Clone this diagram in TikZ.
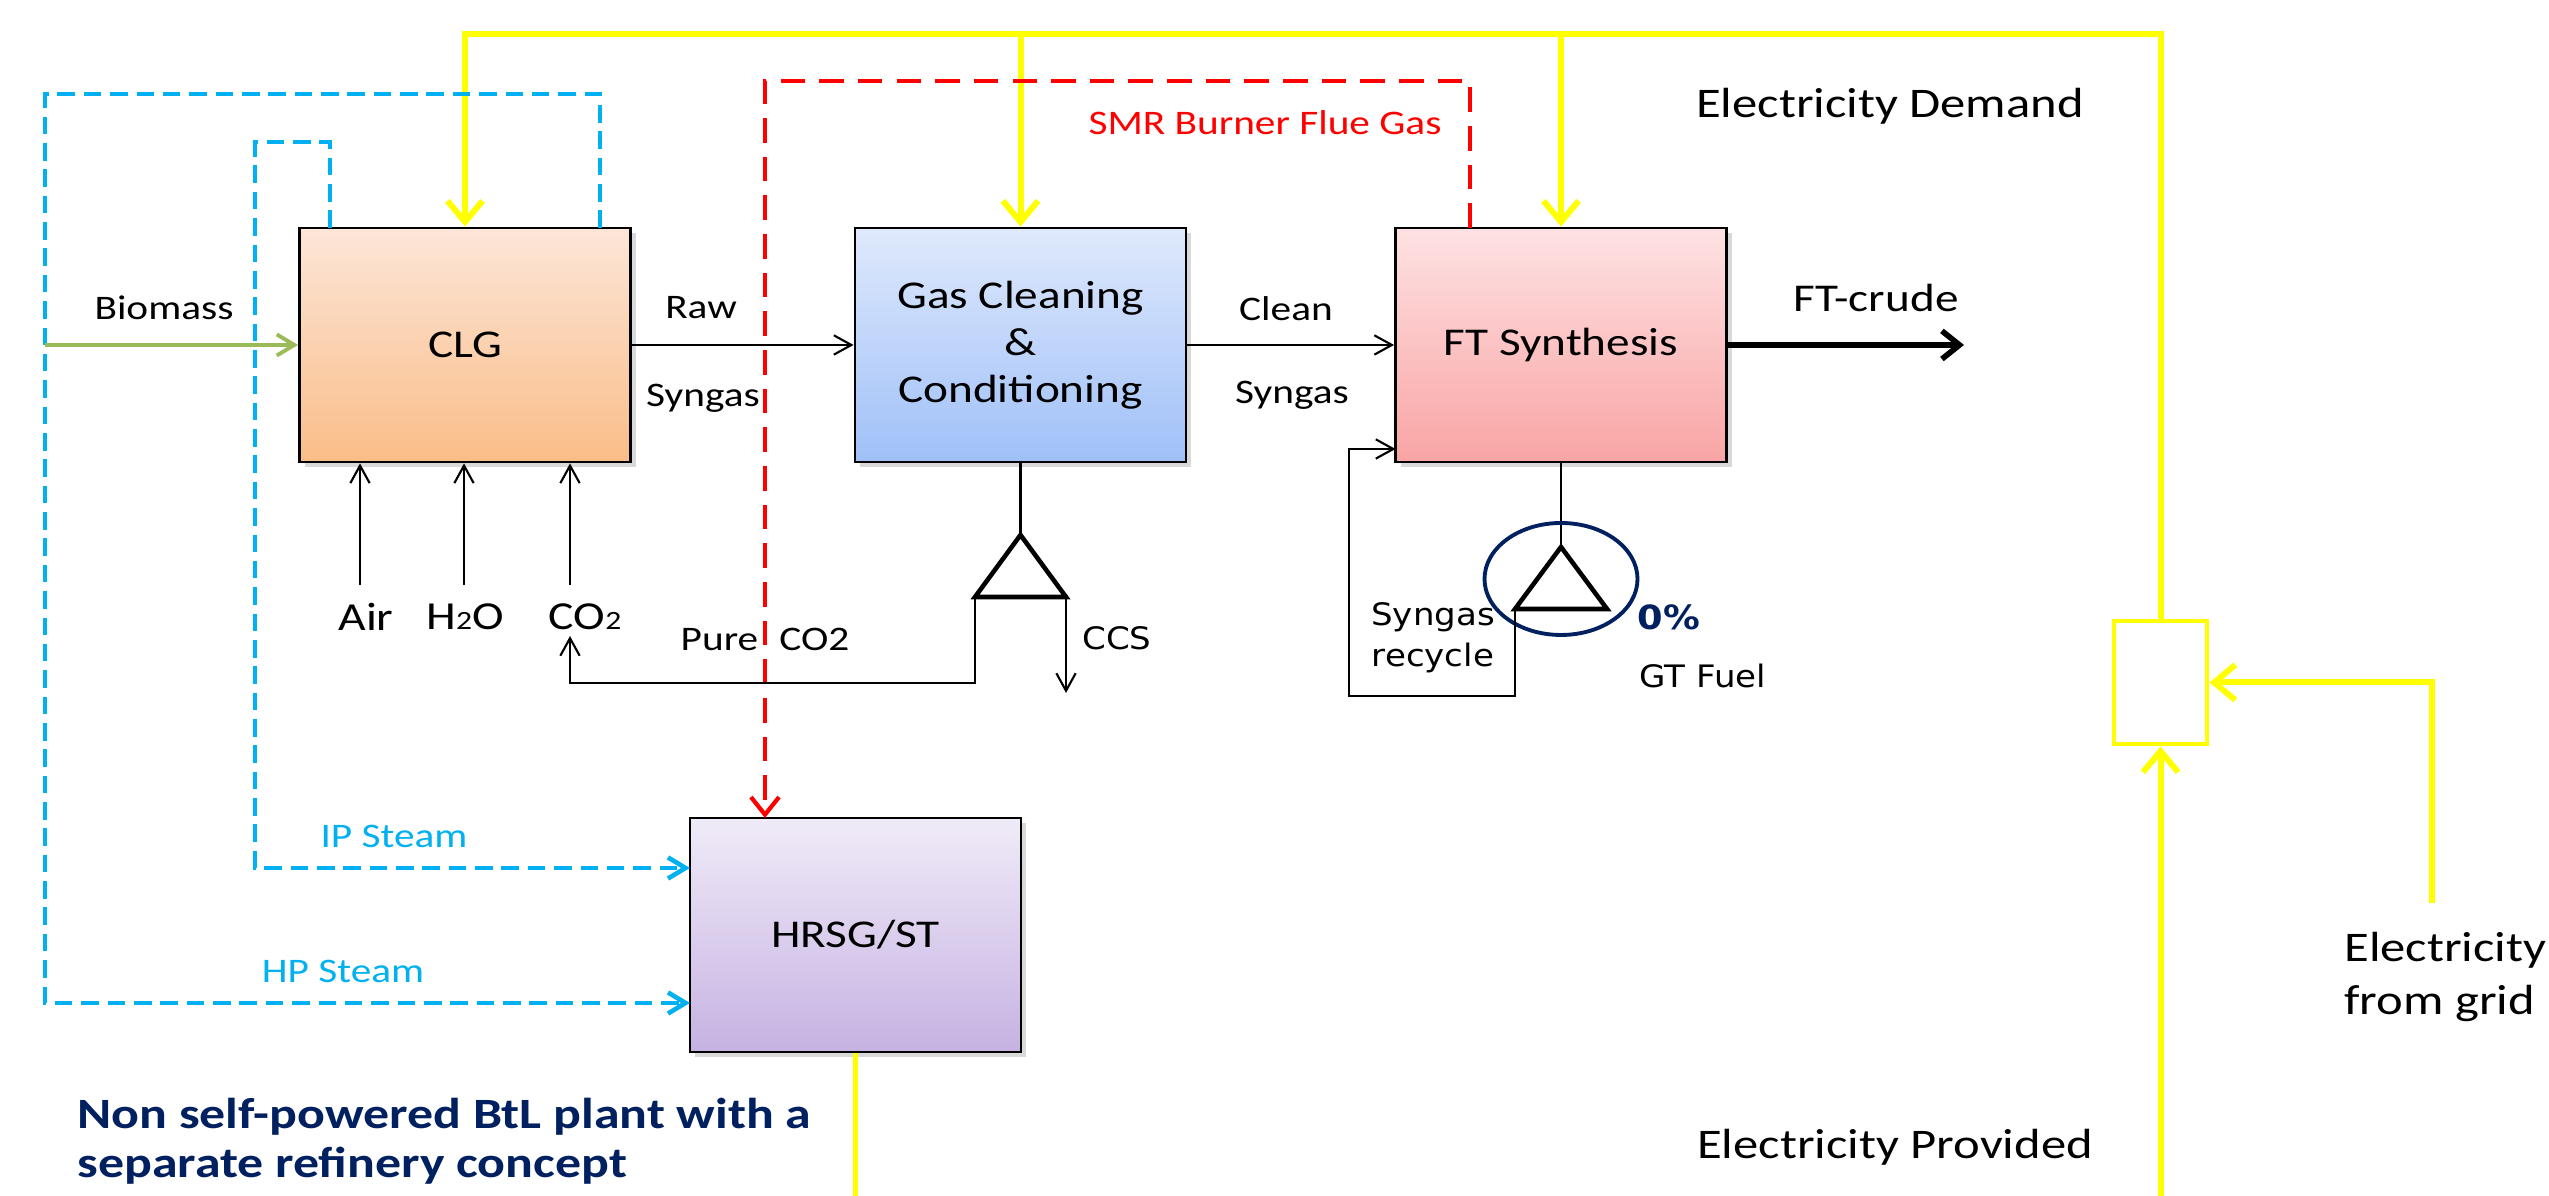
\documentclass[tikz,border=0pt]{standalone}
\usepackage{fontspec}
\setmainfont{Carlito}[FakeStretch=1.2]
\newfontfamily\vfont{DejaVu Sans}[FakeStretch=1.1]
\usepackage{xcolor}
\usepackage{tikz}
\usetikzlibrary{arrows.meta,shadows}
\definecolor{elecyel}{HTML}{FFFF00}
\definecolor{steamblue}{HTML}{00B0F0}
\definecolor{fluered}{HTML}{FF0000}
\definecolor{biogreen}{HTML}{9BBB59}
\definecolor{navy}{HTML}{002060}
\definecolor{clgtop}{HTML}{FCE6D8}
\definecolor{clgbot}{HTML}{FABD88}
\definecolor{gctop}{HTML}{DFE9FC}
\definecolor{gcbot}{HTML}{9FC0F8}
\definecolor{fttop}{HTML}{FEE2E3}
\definecolor{ftbot}{HTML}{F9A4A4}
\definecolor{hrsgtop}{HTML}{F0EBF8}
\definecolor{hrsgbot}{HTML}{C6B2E2}
\newcommand{\sub}[1]{{\fontsize{7.5}{8}\selectfont #1}}

\begin{document}
\begin{tikzpicture}[
  u/.style={draw, line width=0.8pt, minimum width=3.31cm, minimum height=2.34cm, align=center,
            font=\fontsize{11.2}{13.4}\selectfont,
            drop shadow={shadow xshift=1.5pt, shadow yshift=-1.5pt, opacity=0.3}},
  flow/.style={-{Straight Barb[length=5pt,width=5.5pt]}, line width=0.6pt},
  prod/.style={-{Straight Barb[length=5pt,width=8pt]}, line width=1.6pt},
  elec/.style={-{Straight Barb[length=6pt,width=10pt]}, elecyel, line width=1.7pt},
  steam/.style={-{Straight Barb[length=5pt,width=6pt]}, steamblue, line width=1.3pt, dash pattern=on 5pt off 2.5pt},
  flue/.style={-{Straight Barb[length=5pt,width=8pt]}, fluered, line width=1.2pt, dash pattern=on 7pt off 4pt},
  feed/.style={-{Straight Barb[length=5pt,width=6pt]}, biogreen, line width=1.1pt},
  tri/.style={line width=1.3pt, line join=miter},
  lbl/.style={font=\fontsize{9.8}{12}\selectfont},
  big/.style={font=\fontsize{12}{14.8}\selectfont},
  vl/.style={font=\vfont\fontsize{8.8}{11.7}\selectfont}]
\useasboundingbox (0,0) rectangle (25.49,11.96);

% units
\node[u, top color=clgtop, bottom color=clgbot] (clg) at (4.65,8.51) {CLG};
\node[u, top color=gctop, bottom color=gcbot] (gc) at (10.205,8.51) {Gas Cleaning\\\&\\Conditioning};
\node[u, top color=fttop, bottom color=ftbot] (ft) at (15.61,8.51) {FT Synthesis};
\node[u, top color=hrsgtop, bottom color=hrsgbot] (hrsg) at (8.555,2.61) {HRSG/ST};
\node[draw=elecyel, line width=1.4pt, minimum width=0.93cm, minimum height=1.23cm, inner sep=0pt] (ebox) at (21.605,5.135) {};

% electricity
\coordinate (etop) at (4.65,11.62);
\draw[elec] (ebox.north) |- (etop) -- (clg.north);
\draw[elec] (gc.north |- etop) -- (gc.north);
\draw[elec] (ft.north |- etop) -- (ft.north);
\coordinate (grid) at (24.32,2.93);
\draw[elec] (grid) |- (ebox.east);
\coordinate (prov) at (21.605,0);
\draw[elec] (prov) -- (ebox.south);
\coordinate (hout) at (8.555,0);
\draw[elec,-] (hrsg.south) -- (hout);

% steam
\coordinate (hpout) at (6.00,9.68);
\coordinate (hpin) at (6.90,1.93);
\draw[steam] (hpout) -- (6.00,11.02) -| (0.45,1.93) -- (hpin);
\coordinate (ipout) at (3.30,9.68);
\coordinate (ipin) at (6.90,3.28);
\draw[steam] (ipout) -- (3.30,10.54) -| (2.55,3.28) -- (ipin);

% flue gas
\coordinate (flout) at (14.70,9.68);
\coordinate (flin) at (7.65,3.78);
\draw[flue] (flout) |- (7.65,11.15) -- (flin);

% main line
\coordinate (bio) at (0.45,8.51);
\draw[feed] (bio) -- (clg.west);
\draw[flow] (clg.east) -- (gc.west);
\draw[flow] (gc.east) -- (ft.west);
\coordinate (crude) at (19.64,8.51);
\draw[prod] (ft.east) -- (crude);

% gasifier inputs
\coordinate (air) at (3.60,6.11);
\coordinate (wat) at (4.64,6.11);
\coordinate (co) at (5.70,6.11);
\draw[flow] (air) -- (air |- clg.south);
\draw[flow] (wat) -- (wat |- clg.south);
\draw[flow] (co) -- (co |- clg.south);

% CO2 split
\coordinate (ct) at (10.205,6.61);
\coordinate (cl) at (9.75,5.99);
\coordinate (cr) at (10.66,5.99);
\draw[line width=0.6pt] (gc.south) -- (ct);
\draw[tri] (ct) -- (cl) -- (cr) -- cycle;
\coordinate (coback) at (5.70,5.60);
\draw[flow] (cl) -- (9.75,5.13) -| (coback);
\coordinate (ccs) at (10.66,5.03);
\draw[flow] (cr) -- (ccs);

% GT fuel split
\coordinate (gt) at (15.61,6.49);
\coordinate (gl) at (15.15,5.87);
\coordinate (gr) at (16.07,5.87);
\coordinate (gtc) at (15.61,6.17);
\draw[line width=0.6pt] (ft.south) -- (gt);
\draw[tri] (gt) -- (gl) -- (gr) -- cycle;
\draw[navy, line width=1.1pt] (gtc) ellipse [x radius=0.765, y radius=0.56];
\coordinate (recin) at (13.955,7.47);
\draw[flow] (gl) -- (15.15,5.00) -| (13.49,7.47) -- (recin);

% labels
\node[lbl] (lbio) at (1.64,8.88) {Biomass};
\node[lbl] (lraw) at (7.01,8.88) {Raw};
\node[lbl] (lraw2) at (7.03,7.98) {Syngas};
\node[lbl] (lcln) at (12.86,8.87) {Clean};
\node[lbl] (lcln2) at (12.92,8.01) {Syngas};
\node[font=\fontsize{11.2}{13}\selectfont] (lcrude) at (18.76,8.98) {FT-crude};
\node[lbl, fluered] (lflue) at (12.65,10.73) {SMR Burner Flue Gas};
\node[big] (ldem) at (18.90,10.90) {Electricity Demand};
\node[big] (lprov) at (18.95,0.49) {Electricity Provided};
\node[big, anchor=west, align=left] (lgrid) at (23.32,2.19) {Electricity\\from grid};
\node[lbl, steamblue] (lip) at (3.94,3.60) {IP Steam};
\node[lbl, steamblue] (lhp) at (3.43,2.25) {HP Steam};
\node[font=\fontsize{11.3}{13}\selectfont] (lair) at (3.66,5.79) {Air};
\node[font=\fontsize{11.3}{13}\selectfont] (lh2o) at (4.65,5.79) {H\sub{2}O};
\node[font=\fontsize{11.3}{13}\selectfont] (lco2) at (5.85,5.79) {CO\sub{2}};
\node[lbl] (lpure) at (7.65,5.57) {Pure\hspace{6pt}CO2};
\node[vl] (lccs) at (11.17,5.58) {CCS};
\node[vl, align=center] (lrec) at (14.33,5.585) {Syngas\\recycle};
\node[navy, font=\vfont\bfseries\fontsize{9.5}{11}\selectfont] (lpct) at (16.69,5.79) {0\%};
\node[vl] (lgt) at (17.03,5.20) {GT Fuel};
\node[anchor=west, align=left, navy, font=\bfseries\fontsize{12.3}{13.9}\selectfont] (ltitle) at (0.65,0.545) {Non self-powered BtL plant with a\\separate refinery concept};
\end{tikzpicture}
\end{document}
